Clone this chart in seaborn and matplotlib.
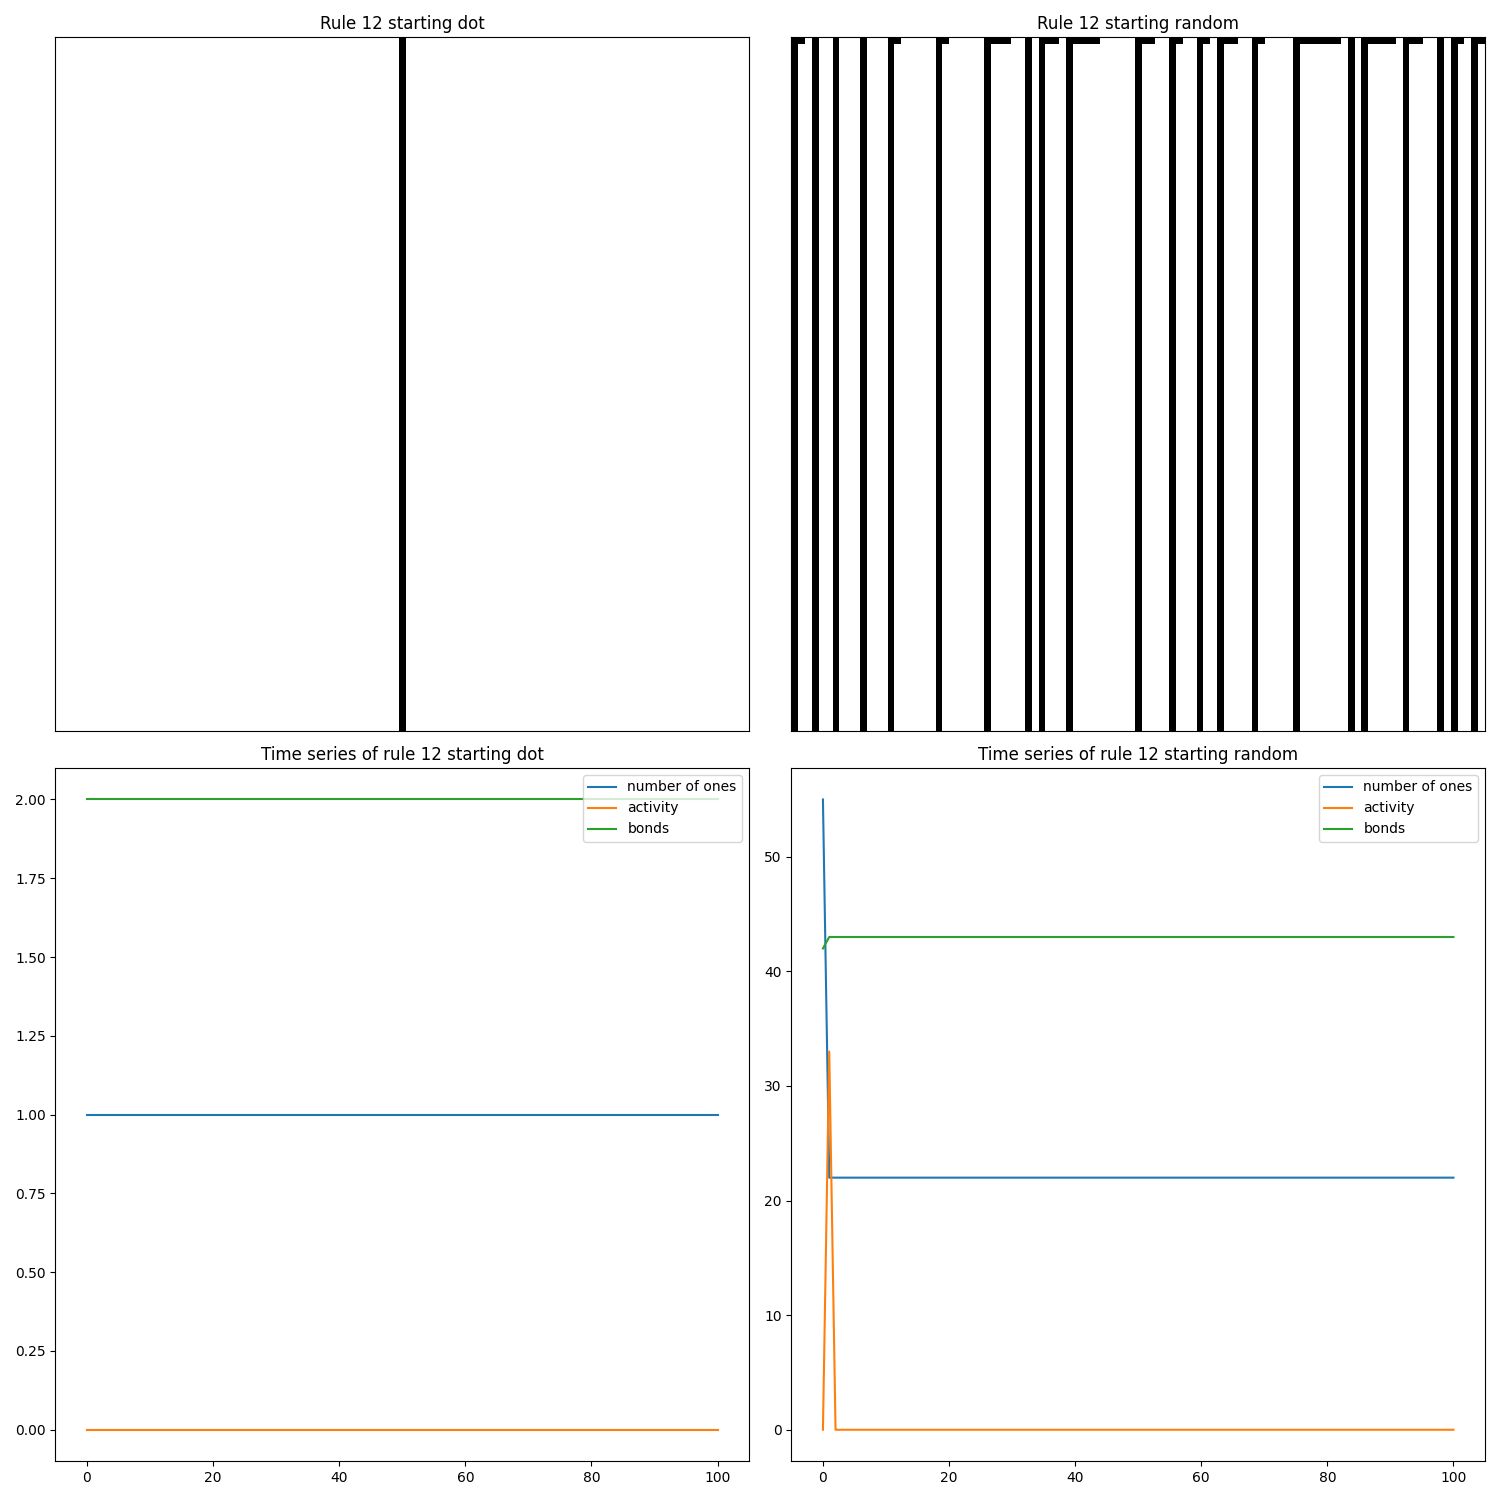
import numpy as np
import matplotlib
matplotlib.use("Agg")
import matplotlib.pyplot as plt
import seaborn as sns

n_cells = 101
n_steps = 101
steps = np.arange(n_steps)

# starting dot: single live cell in the middle
dot_cell = 50

# starting random: runs of ones in the first row (start, length)
run_starts = [0, 3, 6, 10, 14, 21, 28, 34, 36, 40, 50, 55, 59, 62, 67, 73, 81, 83, 89, 94, 96, 99]
run_lengths = [2, 1, 1, 1, 2, 2, 4, 1, 3, 5, 3, 2, 2, 3, 2, 7, 1, 5, 3, 1, 2, 2]

# time series
dot_ones = [1] * n_steps
dot_activity = [0] * n_steps
dot_bonds = [2] * n_steps
rand_ones = [55] + [22] * (n_steps - 1)
rand_activity = [0, 33] + [0] * (n_steps - 2)
rand_bonds = [42] + [43] * (n_steps - 1)

# grids
dot_grid = np.zeros((n_steps, n_cells))
dot_grid[:, dot_cell] = 1
rand_grid = np.zeros((n_steps, n_cells))
for s, l in zip(run_starts, run_lengths):
    rand_grid[0, s:s + l] = 1
    rand_grid[1:, s] = 1

fig, axes = plt.subplots(2, 2, figsize=(15, 15))

for ax, grid, title in [(axes[0, 0], dot_grid, "Rule 12 starting dot"),
                        (axes[0, 1], rand_grid, "Rule 12 starting random")]:
    sns.heatmap(grid, ax=ax, cmap="Greys", cbar=False, vmin=0, vmax=1,
                xticklabels=False, yticklabels=False)
    ax.set_title(title)
    for sp in ax.spines.values():
        sp.set_visible(True)
        sp.set_linewidth(0.8)

for ax, ones, act, bonds, title in [
        (axes[1, 0], dot_ones, dot_activity, dot_bonds, "Time series of rule 12 starting dot"),
        (axes[1, 1], rand_ones, rand_activity, rand_bonds, "Time series of rule 12 starting random")]:
    sns.lineplot(x=steps, y=ones, ax=ax, label="number of ones")
    sns.lineplot(x=steps, y=act, ax=ax, label="activity")
    sns.lineplot(x=steps, y=bonds, ax=ax, label="bonds")
    ax.set_title(title)
    ax.legend(loc="upper right")

plt.tight_layout()
plt.savefig("out.png", dpi=100)
